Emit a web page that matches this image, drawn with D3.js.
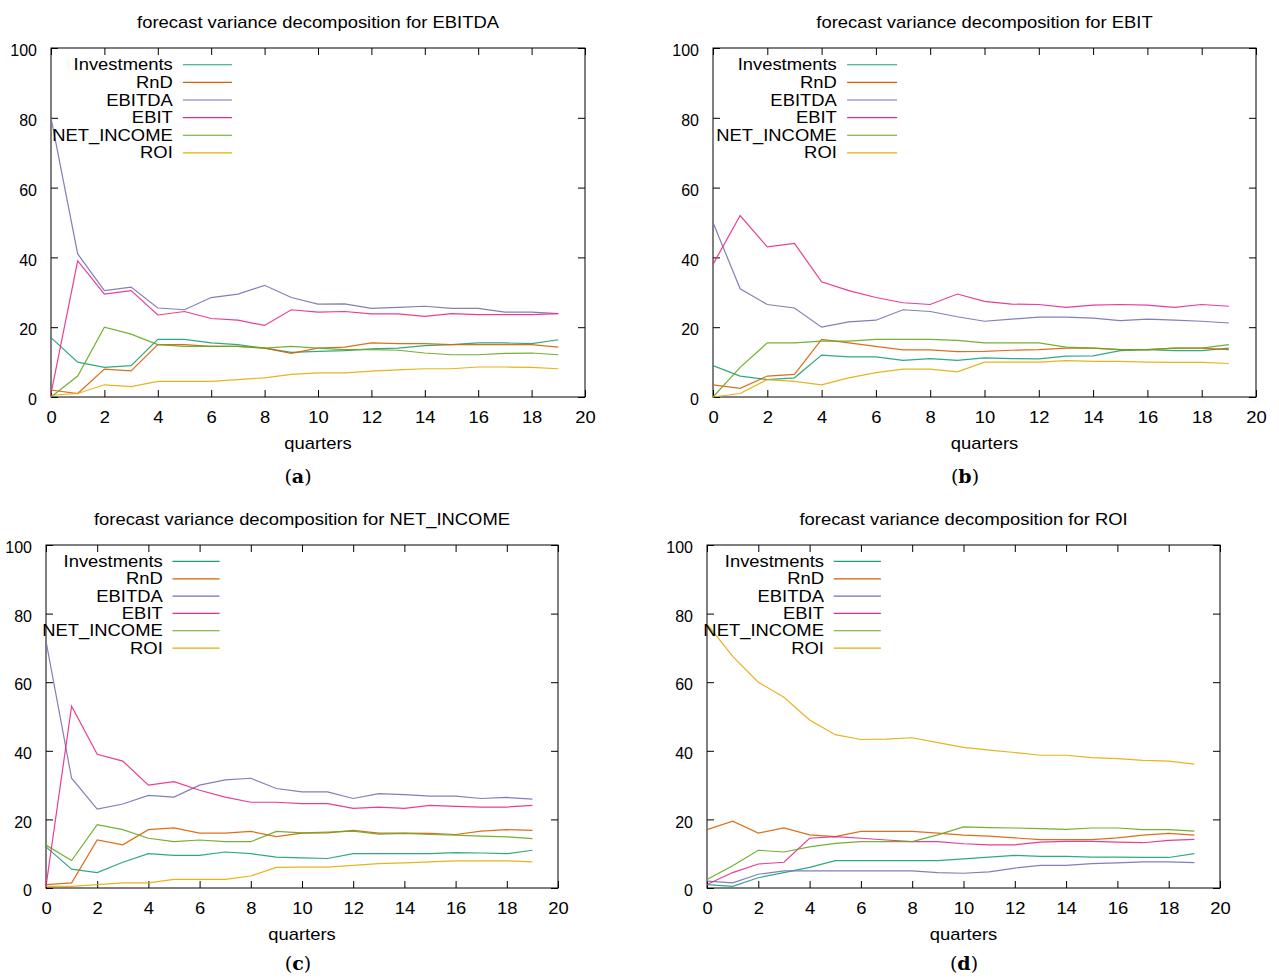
<!DOCTYPE html>
<html>
<head>
<meta charset="utf-8">
<script src="https://cdn.jsdelivr.net/npm/d3@7"></script>
<style>
  body { margin: 0; background: #fff; }
  text { font-family: "Liberation Sans", Arial, sans-serif; fill: #000; }
</style>
</head>
<body>
<script>
// x values (forecast horizon, quarters)
var quarters = [0, 1, 2, 3, 4, 5, 6, 7, 8, 9, 10, 11, 12, 13, 14, 15, 16, 17, 18, 19];
var seriesNames = ["Investments", "RnD", "EBITDA", "EBIT", "NET_INCOME", "ROI"];
var seriesColors = ["#1b9e77", "#d95f02", "#7570b3", "#e7298a", "#66a61e", "#e6ab02"];
var xTicks = [0, 2, 4, 6, 8, 10, 12, 14, 16, 18, 20];
var yTicks = [0, 20, 40, 60, 80, 100];

// one row per series, in seriesNames order
var fevdEBITDA = [
  [17, 10, 8.5, 9, 16.5, 16.5, 15.5, 15, 14, 12.8, 13.1, 13.3, 13.8, 14, 14.7, 15, 15.5, 15.5, 15.3, 16.4],
  [2, 1, 8, 7.5, 15, 15, 14.5, 14.5, 14, 12.5, 14, 14.3, 15.5, 15.3, 15.3, 15, 15, 15, 15, 14.3],
  [80, 41, 30.5, 31.5, 25.5, 25, 28.5, 29.5, 32, 28.5, 26.6, 26.7, 25.4, 25.7, 26, 25.4, 25.4, 24.3, 24.3, 23.9],
  [1, 39, 29.5, 30.5, 23.5, 24.5, 22.5, 22, 20.5, 25, 24.3, 24.5, 23.8, 23.8, 23.1, 23.9, 23.6, 23.6, 23.6, 23.9],
  [0, 6, 20, 18, 15, 14.5, 14.5, 14.5, 14, 14.5, 14, 13.6, 13.6, 13.4, 12.6, 12.1, 12.1, 12.5, 12.6, 12.1],
  [0.5, 1, 3.5, 3, 4.5, 4.5, 4.5, 5, 5.5, 6.5, 6.9, 6.9, 7.4, 7.8, 8.1, 8.1, 8.6, 8.6, 8.5, 8.1]
];
var fevdEBIT = [
  [9, 6, 5, 5.5, 12, 11.5, 11.5, 10.5, 11, 10.5, 11.2, 11, 10.9, 11.7, 11.8, 13.3, 13.6, 13.3, 13.3, 14],
  [3.5, 2.5, 6, 6.5, 16.5, 15.5, 14.5, 13.5, 13.5, 13, 13.1, 13.4, 13.6, 14, 14, 13.6, 13.6, 14, 14, 13.6],
  [50, 31, 26.5, 25.5, 20, 21.5, 22, 25, 24.5, 23, 21.7, 22.3, 22.9, 22.9, 22.6, 21.9, 22.3, 22, 21.7, 21.2],
  [38, 52, 43, 44, 33, 30.5, 28.5, 27, 26.5, 29.5, 27.4, 26.6, 26.5, 25.7, 26.3, 26.5, 26.3, 25.7, 26.5, 26],
  [0, 8.5, 15.5, 15.5, 16, 16, 16.5, 16.5, 16.5, 16.2, 15.5, 15.5, 15.5, 14.3, 14, 13.6, 13.6, 14, 14, 15],
  [0, 1, 5, 4.5, 3.5, 5.5, 7, 8, 8, 7.2, 10, 10, 10, 10.4, 10.2, 10.2, 10, 9.9, 9.9, 9.6]
];
var fevdNetIncome = [
  [12, 5.5, 4.5, 7.5, 10, 9.5, 9.5, 10.5, 10, 9, 8.8, 8.6, 10, 10, 10, 10, 10.3, 10.2, 10, 11],
  [1, 1.5, 14, 12.6, 17, 17.5, 16, 16, 16.5, 15, 16, 16.1, 16.8, 16, 16, 15.9, 15.6, 16.6, 17, 16.8],
  [72, 32, 23, 24.5, 27, 26.5, 30, 31.5, 32, 29, 28, 28, 26.1, 27.5, 27.2, 26.8, 26.8, 26.1, 26.4, 25.9],
  [0.5, 53, 39, 37, 30, 31, 28.5, 26.5, 25, 25, 24.6, 24.6, 23.2, 23.6, 23.2, 24.1, 23.8, 23.6, 23.6, 24.1],
  [12.5, 8, 18.5, 17, 14.5, 13.5, 14, 13.5, 13.5, 16.5, 16.1, 16.3, 16.6, 15.7, 15.9, 15.6, 15.4, 15.1, 14.9, 14.4],
  [0.5, 0.5, 1, 1.5, 1.5, 2.5, 2.5, 2.5, 3.5, 6, 6.1, 6.1, 6.6, 7.1, 7.3, 7.6, 7.9, 7.9, 7.9, 7.6]
];
var fevdROI = [
  [1, 0.5, 3, 4.5, 6, 8, 8, 8, 8, 8, 8.5, 9, 9.5, 9.2, 9.2, 9, 9, 8.9, 8.9, 10],
  [17, 19.5, 16, 17.5, 15.5, 15, 16.5, 16.5, 16.5, 16, 15.4, 15.1, 14.6, 14.1, 14.1, 14.1, 14.6, 15.4, 15.9, 15.4],
  [2, 1.5, 4, 5, 5, 5, 5, 5, 5, 4.5, 4.3, 4.7, 5.8, 6.6, 6.6, 7.1, 7.3, 7.6, 7.6, 7.4],
  [1, 4.5, 7, 7.5, 14.5, 15, 14.5, 14, 13.5, 13.5, 12.9, 12.6, 12.6, 13.4, 13.6, 13.6, 13.4, 13.2, 13.9, 14.2],
  [2.5, 6.5, 11, 10.5, 12, 13, 13.5, 13.5, 13.5, 15.5, 17.8, 17.6, 17.5, 17.3, 17.1, 17.5, 17.5, 17, 17, 16.6],
  [77, 67.5, 60, 55.6, 49, 44.7, 43.3, 43.4, 43.8, 42.4, 41, 40.2, 39.5, 38.7, 38.7, 38, 37.7, 37.2, 37, 36.1]
];

var titles = ["EBITDA", "EBIT", "NET_INCOME", "ROI"];
var captions = ["a", "b", "c", "d"];
var panelData = [fevdEBITDA, fevdEBIT, fevdNetIncome, fevdROI];

// plot boxes [left, top, right, bottom] and caption centres
var boxes = [[51, 48, 585, 397], [713, 48, 1256, 397], [46, 545, 558, 888], [707, 545, 1220, 888]];
var captionX = [298, 965, 298, 964];
var captionY = [476, 476, 963, 963];

var SX = 1.15; // the figure's text is slightly stretched horizontally

var svg = d3.select("body").append("svg")
  .attr("width", 1279)
  .attr("height", 978);

function drawPanel(k) {
  var b = boxes[k];
  var w = b[2] - b[0], h = b[3] - b[1];
  var x = d3.scaleLinear().domain([0, 20]).range([b[0], b[2]]);
  var y = d3.scaleLinear().domain([0, 100]).range([b[3], b[1]]);
  var g = svg.append("g");

  function styleAxis(sel) {
    sel.select(".domain").remove();
    sel.selectAll(".tick line").attr("stroke", "#000");
    sel.selectAll(".tick text")
       .style("font-family", '"Liberation Sans", Arial, sans-serif')
       .style("font-size", "16px")
       .attr("fill", "#000");
  }

  g.append("g").attr("transform", "translate(0," + b[3] + ")")
    .call(d3.axisBottom(x).tickValues(xTicks).tickSizeInner(-7).tickSizeOuter(0).tickPadding(15))
    .call(styleAxis)
    .selectAll(".tick text").attr("transform", "scale(" + SX + ",1)");
  g.append("g").attr("transform", "translate(0," + b[1] + ")")
    .call(d3.axisTop(x).tickValues(xTicks).tickSizeInner(-7).tickSizeOuter(0).tickFormat(""))
    .call(styleAxis);
  g.append("g").attr("transform", "translate(" + b[0] + ",0)")
    .call(d3.axisLeft(y).tickValues(yTicks).tickSizeInner(-7).tickSizeOuter(0).tickPadding(14))
    .call(styleAxis)
    .selectAll(".tick text").attr("dy", "0.48em");
  g.append("g").attr("transform", "translate(" + b[2] + ",0)")
    .call(d3.axisRight(y).tickValues(yTicks).tickSizeInner(-7).tickSizeOuter(0).tickFormat(""))
    .call(styleAxis);

  g.append("rect")
    .attr("x", b[0]).attr("y", b[1])
    .attr("width", w).attr("height", h)
    .attr("fill", "none").attr("stroke", "#000").attr("stroke-width", 1);

  var line = d3.line()
    .x(function(d, i) { return x(quarters[i]); })
    .y(function(d) { return y(d); });

  panelData[k].forEach(function(vals, s) {
    g.append("path")
      .attr("d", line(vals))
      .attr("fill", "none")
      .attr("stroke", seriesColors[s])
      .attr("stroke-width", 1.2)
      .attr("stroke-opacity", 0.9);
  });

  // legend (gnuplot style: right-aligned key text, sample line after it)
  seriesNames.forEach(function(name, s) {
    var ry = b[1] + (0.048 + 0.0505 * s) * h;
    g.append("text")
      .attr("transform", "translate(" + (b[0] + 0.228 * w) + "," + ry + ") scale(" + SX + ",1)")
      .attr("text-anchor", "end")
      .attr("dy", "0.35em")
      .style("font-size", "16px")
      .text(name);
    g.append("line")
      .attr("x1", b[0] + 0.247 * w).attr("x2", b[0] + 0.339 * w)
      .attr("y1", ry).attr("y2", ry)
      .attr("stroke", seriesColors[s])
      .attr("stroke-width", 1.2);
  });

  g.append("text")
    .attr("transform", "translate(" + (b[0] + w / 2) + "," + (b[1] - 26) + ") scale(" + SX + ",1)")
    .attr("text-anchor", "middle")
    .attr("dy", "0.35em")
    .style("font-size", "16px")
    .text("forecast variance decomposition for " + titles[k]);

  g.append("text")
    .attr("transform", "translate(" + (b[0] + w / 2) + "," + (b[3] + 46) + ") scale(" + SX + ",1)")
    .attr("text-anchor", "middle")
    .attr("dy", "0.35em")
    .style("font-size", "16px")
    .text("quarters");

  var cap = g.append("text")
    .attr("x", captionX[k]).attr("y", captionY[k])
    .attr("text-anchor", "middle")
    .attr("dy", "0.35em")
    .style("font-family", '"DejaVu Serif", "Liberation Serif", serif')
    .style("font-size", "19px");
  cap.append("tspan").text("(");
  cap.append("tspan").style("font-weight", "bold").text(captions[k]);
  cap.append("tspan").text(")");
}

for (var k = 0; k < 4; k++) drawPanel(k);
</script>
</body>
</html>
